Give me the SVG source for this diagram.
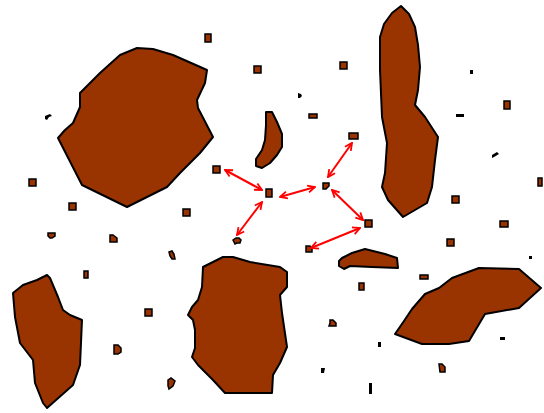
<svg xmlns="http://www.w3.org/2000/svg" width="544" height="413" viewBox="0 0 544 413">
<style>
.b{fill:#993300;stroke:#000;stroke-width:2;stroke-linejoin:round}
.s{fill:#993300;stroke:#000;stroke-width:1.5}
.k{fill:#000}
.a{stroke:#ff0000;stroke-width:2;fill:none;marker-start:url(#h);marker-end:url(#h)}
</style>
<defs>
<marker id="h" viewBox="0 0 10 10" refX="9" refY="5" markerWidth="9" markerHeight="9" markerUnits="userSpaceOnUse" orient="auto-start-reverse">
<path d="M1,1 L9,5 L1,9" fill="none" stroke="#ff0000" stroke-width="2"/>
</marker>
</defs>
<rect width="544" height="413" fill="#fff"/>
<g id="blob1"><polygon class="b" points="120,55 137,48 153,49 173,55 207,70 205,83 197,100 198,108 213,137 200,153 180,173 167,187 127,207 82,185 58,138 65,130 73,123 80,107 80,93 100,73"/></g>
<g id="blob2"><polygon class="b" points="266,112 272,112 277,122 282,134 282,147 277,155 270,163 262,168 256,166 256,159 262,150 265,140 266,125"/></g>
<g id="blob3"><polygon class="b" points="401,6 409,14 415,27 418,45 420,67 418,90 415,105 425,117 438,137 435,160 432,187 427,203 403,217 388,200 382,187 385,173 387,143 382,117 380,70 380,37 384,24 392,13"/></g>
<g id="blob4"><polygon class="b" points="213,262 223,257 233,257 250,262 280,267 287,272 287,287 280,295 282,313 287,347 280,363 273,375 272,393 225,393 213,380 198,365 192,357 195,348 195,330 193,320 188,315 192,307 198,300 202,287 203,267"/></g>
<g id="blob5"><polygon class="b" points="47,275 50,278 58,297 63,310 70,315 82,320 80,365 73,385 47,408 43,403 35,383 33,360 20,343 15,317 13,293 23,285 37,280"/></g>
<g id="blob6"><polygon class="b" points="395,334 422,344 449,344 469,341 485,314 519,308 541,288 519,269 479,268 452,278 439,288 425,294 412,309 404,321"/></g>
<g id="blob7"><polygon class="b" points="339,261 339,266 344,269 350,266 372,267 398,268 397,258 385,254 365,249 352,253 342,258"/></g>
<g id="squares">
<rect class="s" x="205" y="34" width="6" height="8"/>
<rect class="s" x="254" y="66" width="7" height="7"/>
<rect class="s" x="340" y="62" width="7" height="7"/>
<rect class="s" x="504" y="101" width="6" height="8"/>
<rect class="s" x="309" y="114" width="8" height="4"/>
<rect class="s" x="29" y="179" width="7" height="7"/>
<rect class="s" x="69" y="203" width="7" height="7"/>
<rect class="s" x="183" y="209" width="7" height="7"/>
<path class="s" d="M48,233 h7 v3 l-3,2 h-2 l-2,-2 z"/>
<path class="s" d="M110,235 h3 l4,3 v4 h-7 z"/>
<path class="s" d="M169,252 l3,-1 l2,3 l1,5 h-3 l-2,-3 z"/>
<rect class="s" x="84" y="271" width="4" height="7"/>
<rect class="s" x="145" y="309" width="7" height="7"/>
<path class="s" d="M114,345 h4 l3,3 v4 l-3,2 h-4 z"/>
<path class="s" d="M168,380 l3,-2 l4,3 l-2,5 l-4,3 l-1,-3 z"/>
<rect class="s" x="538" y="178" width="4" height="8"/>
<rect class="s" x="452" y="196" width="7" height="7"/>
<rect class="s" x="500" y="221" width="8" height="6"/>
<rect class="s" x="447" y="239" width="7" height="7"/>
<rect class="s" x="420" y="275" width="8" height="4"/>
<rect class="s" x="359" y="283" width="5" height="7"/>
<path class="s" d="M330,320 l3,0 l3,3 v3 h-7 l1,-3 z"/>
<path class="s" d="M439,364 h3 l3,3 v5 h-5 z"/>
</g>
<g id="nodes">
<g id="n1"><rect class="s" x="213" y="166" width="7" height="7"/></g>
<g id="n2"><rect class="s" x="266" y="189" width="6" height="8"/></g>
<g id="n3"><path class="s" d="M323,183 h6 v3 l-3,3 h-3 z"/></g>
<g id="n4"><rect class="s" x="349" y="133" width="9" height="6"/></g>
<g id="n5"><rect class="s" x="365" y="220" width="7" height="7"/></g>
<g id="n6"><path class="s" d="M306,246 h4 l2,3 v3 h-6 z"/></g>
<g id="n7"><path class="s" d="M233,240 l3,-2 h3 l2,2 l-1,3 h-3 l-2,1 z"/></g>
</g>
<g id="marks">
<path class="k" d="M45,116 l5,-2 l2,2 l-3,1 l-2,3 l-2,-1 z"/>
<path class="k" d="M298,93 l3,1 l1,2 l-2,2 l-2,0 z"/>
<rect class="k" x="470" y="70" width="3" height="4"/>
<rect class="k" x="456" y="114" width="8" height="3"/>
<path class="k" d="M492,155 l5,-3 l2,2 l-5,3 l-2,1 z"/>
<rect class="k" x="529" y="256" width="3" height="3"/>
<rect class="k" x="378" y="342" width="3" height="5"/>
<rect class="k" x="500" y="337" width="5" height="3"/>
<path class="k" d="M321,368 h4 l-1,5 h-3 z"/>
<rect class="k" x="369" y="383" width="3" height="11"/>
</g>
<g id="connectors">
<line class="a" x1="225" y1="170" x2="262" y2="190"/>
<line class="a" x1="280" y1="197" x2="315" y2="187"/>
<line class="a" x1="262" y1="202" x2="237" y2="235"/>
<line class="a" x1="352" y1="143" x2="328" y2="177"/>
<line class="a" x1="332" y1="190" x2="363" y2="220"/>
<line class="a" x1="360" y1="228" x2="311" y2="248"/>
</g>
</svg>
